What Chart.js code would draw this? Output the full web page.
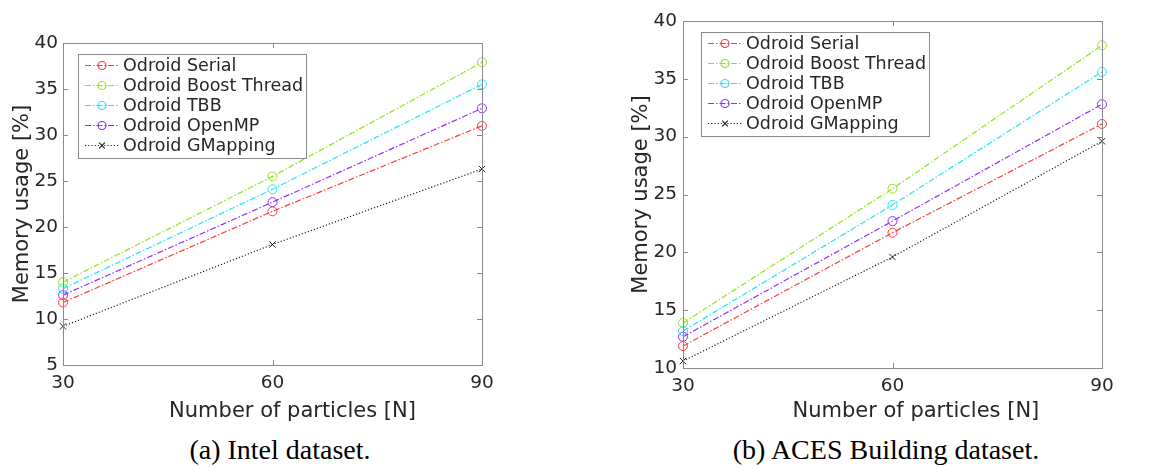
<!DOCTYPE html>
<html>
<head>
<meta charset="utf-8">
<script src="https://cdn.jsdelivr.net/npm/chart.js@4.4.1/dist/chart.umd.min.js"></script>
<style>
body { margin: 0; background: #fff; width: 1163px; height: 470px; position: relative; overflow: hidden; }
.panel { position: absolute; top: 0; }
.caption { position: absolute; top: 434px; width: 320px; text-align: center; color: #000;
  font-family: "Liberation Serif", "Times New Roman", serif; font-size: 28px; line-height: 32px; }
</style>
</head>
<body>
<div class="panel" style="left:0"><canvas id="intel" width="581" height="430"></canvas></div>
<div class="panel" style="left:600px"><canvas id="aces" width="563" height="430"></canvas></div>
<div class="caption" style="left:120px">(a) Intel dataset.</div>
<div class="caption" style="left:726px">(b) ACES Building dataset.</div>
<script>
const particles = [30, 60, 90];
const seriesNames = ['Odroid Serial', 'Odroid Boost Thread', 'Odroid TBB', 'Odroid OpenMP', 'Odroid GMapping'];

// (a) Intel dataset
const intelSerial = [11.8, 21.7, 31.0];
const intelBoost = [14.0, 25.5, 37.9];
const intelTbb = [13.3, 24.1, 35.5];
const intelOpenmp = [12.6, 22.7, 32.9];
const intelGmapping = [9.2, 18.1, 26.3];
const intelYTicks = [5, 10, 15, 20, 25, 30, 35, 40];

// (b) ACES Building dataset
const acesSerial = [11.9, 21.7, 31.1];
const acesBoost = [13.9, 25.5, 37.9];
const acesTbb = [13.2, 24.1, 35.6];
const acesOpenmp = [12.7, 22.7, 32.8];
const acesGmapping = [10.6, 19.6, 29.6];
const acesYTicks = [10, 15, 20, 25, 30, 35, 40];

const seriesStyle = [
    {color: '#ff3b3b', dash: [6, 2, 1.5, 2], marker: 'circle'},
    {color: '#8ee61a', dash: [6, 2, 1.5, 2], marker: 'circle'},
    {color: '#1ee6f5', dash: [6, 2, 1.5, 2], marker: 'circle'},
    {color: '#9030ff', dash: [6, 2, 1.5, 2], marker: 'circle'},
    {color: '#222222', dash: [1.2, 2], marker: 'crossRot'}
];

const textColor = '#262626';
const frameColor = '#8a8a8a';
const fontFamily = '"DejaVu Sans", Verdana, sans-serif';

function makeDatasets(series) {
    return series.map((vals, i) => ({
        label: seriesNames[i],
        data: particles.map((p, j) => ({x: p, y: vals[j]})),
        borderColor: seriesStyle[i].color,
        borderWidth: 1.2,
        borderDash: seriesStyle[i].dash,
        pointStyle: seriesStyle[i].marker,
        pointRadius: 4.5,
        pointBorderWidth: 1,
        pointBorderColor: seriesStyle[i].color,
        pointBackgroundColor: 'rgba(0,0,0,0)',
        fill: false,
        tension: 0,
        clip: false
    }));
}

// box around the plot with inward ticks, like matlab
const matlabFrame = {
    id: 'matlabFrame',
    afterDatasetsDraw(chart) {
        const {ctx, chartArea: a, scales} = chart;
        ctx.save();
        ctx.strokeStyle = frameColor;
        ctx.lineWidth = 1;
        ctx.setLineDash([]);
        ctx.strokeRect(a.left + 0.5, a.top + 0.5, a.width, a.height);
        ctx.beginPath();
        scales.x.ticks.forEach(t => {
            const px = Math.round(scales.x.getPixelForValue(t.value)) + 0.5;
            ctx.moveTo(px, a.bottom); ctx.lineTo(px, a.bottom - 5);
            ctx.moveTo(px, a.top); ctx.lineTo(px, a.top + 5);
        });
        scales.y.ticks.forEach(t => {
            const py = Math.round(scales.y.getPixelForValue(t.value)) + 0.5;
            ctx.moveTo(a.left, py); ctx.lineTo(a.left + 5, py);
            ctx.moveTo(a.right, py); ctx.lineTo(a.right - 5, py);
        });
        ctx.stroke();
        ctx.restore();
    }
};

// legend box drawn inside the plot area
const insideLegend = {
    id: 'insideLegend',
    afterDraw(chart, args, opts) {
        const {ctx, chartArea: a} = chart;
        const sets = chart.data.datasets;
        ctx.save();
        ctx.font = '17.5px ' + fontFamily;
        const textW = Math.max(...sets.map(ds => ctx.measureText(ds.label).width));
        const x0 = a.left + opts.x, y0 = a.top + opts.y;
        const w = Math.round(45 + textW + 3), h = sets.length * 20 + 4;
        ctx.fillStyle = '#fff';
        ctx.fillRect(x0, y0, w, h);
        ctx.strokeStyle = frameColor;
        ctx.lineWidth = 1;
        ctx.strokeRect(x0 + 0.5, y0 + 0.5, w, h);
        sets.forEach((ds, i) => {
            const cy = y0 + 11.5 + i * 20;
            ctx.strokeStyle = ds.borderColor;
            ctx.lineWidth = ds.borderWidth;
            ctx.setLineDash(ds.borderDash);
            ctx.beginPath();
            ctx.moveTo(x0 + 7, cy);
            ctx.lineTo(x0 + 41, cy);
            ctx.stroke();
            ctx.setLineDash([]);
            ctx.fillStyle = 'rgba(0,0,0,0)';
            Chart.helpers.drawPoint(ctx, {pointStyle: ds.pointStyle, radius: 4, rotation: 0, borderWidth: 1}, x0 + 24, cy);
            ctx.fillStyle = textColor;
            ctx.textBaseline = 'middle';
            ctx.textAlign = 'left';
            ctx.fillText(ds.label, x0 + 45, cy + 1);
        });
        ctx.restore();
    }
};

function makeChart(id, series, yTicks, box) {
    return new Chart(document.getElementById(id), {
        type: 'line',
        data: {datasets: makeDatasets(series)},
        options: {
            responsive: false,
            animation: false,
            layout: {padding: box.padding},
            plugins: {
                legend: {display: false},
                tooltip: {enabled: false},
                insideLegend: box.legend
            },
            scales: {
                x: {
                    type: 'linear',
                    min: particles[0],
                    max: particles[particles.length - 1],
                    afterBuildTicks: s => { s.ticks = particles.map(v => ({value: v})); },
                    afterFit: s => { s.height = box.xHeight; },
                    grid: {display: false, drawTicks: false},
                    border: {display: false},
                    ticks: {color: textColor, padding: 7, font: {family: fontFamily, size: 18.5}},
                    title: {
                        display: true,
                        text: box.xTitle,
                        color: textColor,
                        padding: {top: 0, bottom: 6},
                        font: {family: fontFamily, size: 21}
                    }
                },
                y: {
                    min: yTicks[0],
                    max: yTicks[yTicks.length - 1],
                    afterBuildTicks: s => { s.ticks = yTicks.map(v => ({value: v})); },
                    afterFit: s => { s.width = box.yWidth; },
                    grid: {display: false, drawTicks: false},
                    border: {display: false},
                    ticks: {color: textColor, padding: box.yPad, font: {family: fontFamily, size: 18.5}},
                    title: {
                        display: true,
                        text: 'Memory usage [%]',
                        color: textColor,
                        padding: {top: box.yTitlePad, bottom: 0},
                        font: {family: fontFamily, size: 21}
                    }
                }
            }
        },
        plugins: [matlabFrame, insideLegend]
    });
}

makeChart('intel', [intelSerial, intelBoost, intelTbb, intelOpenmp, intelGmapping], intelYTicks, {
    padding: {top: 43, right: 99, bottom: 0, left: 0},
    xHeight: 65, yWidth: 63, yPad: 5, yTitlePad: 10,
    xTitle: '      Number of particles [N]',
    legend: {x: 15, y: 11}
});

makeChart('aces', [acesSerial, acesBoost, acesTbb, acesOpenmp, acesGmapping], acesYTicks, {
    padding: {top: 21, right: 61, bottom: 0, left: 0},
    xHeight: 62, yWidth: 83, yPad: 6, yTitlePad: 29,
    xTitle: '       Number of particles [N]',
    legend: {x: 18, y: 11}
});
</script>
</body>
</html>
